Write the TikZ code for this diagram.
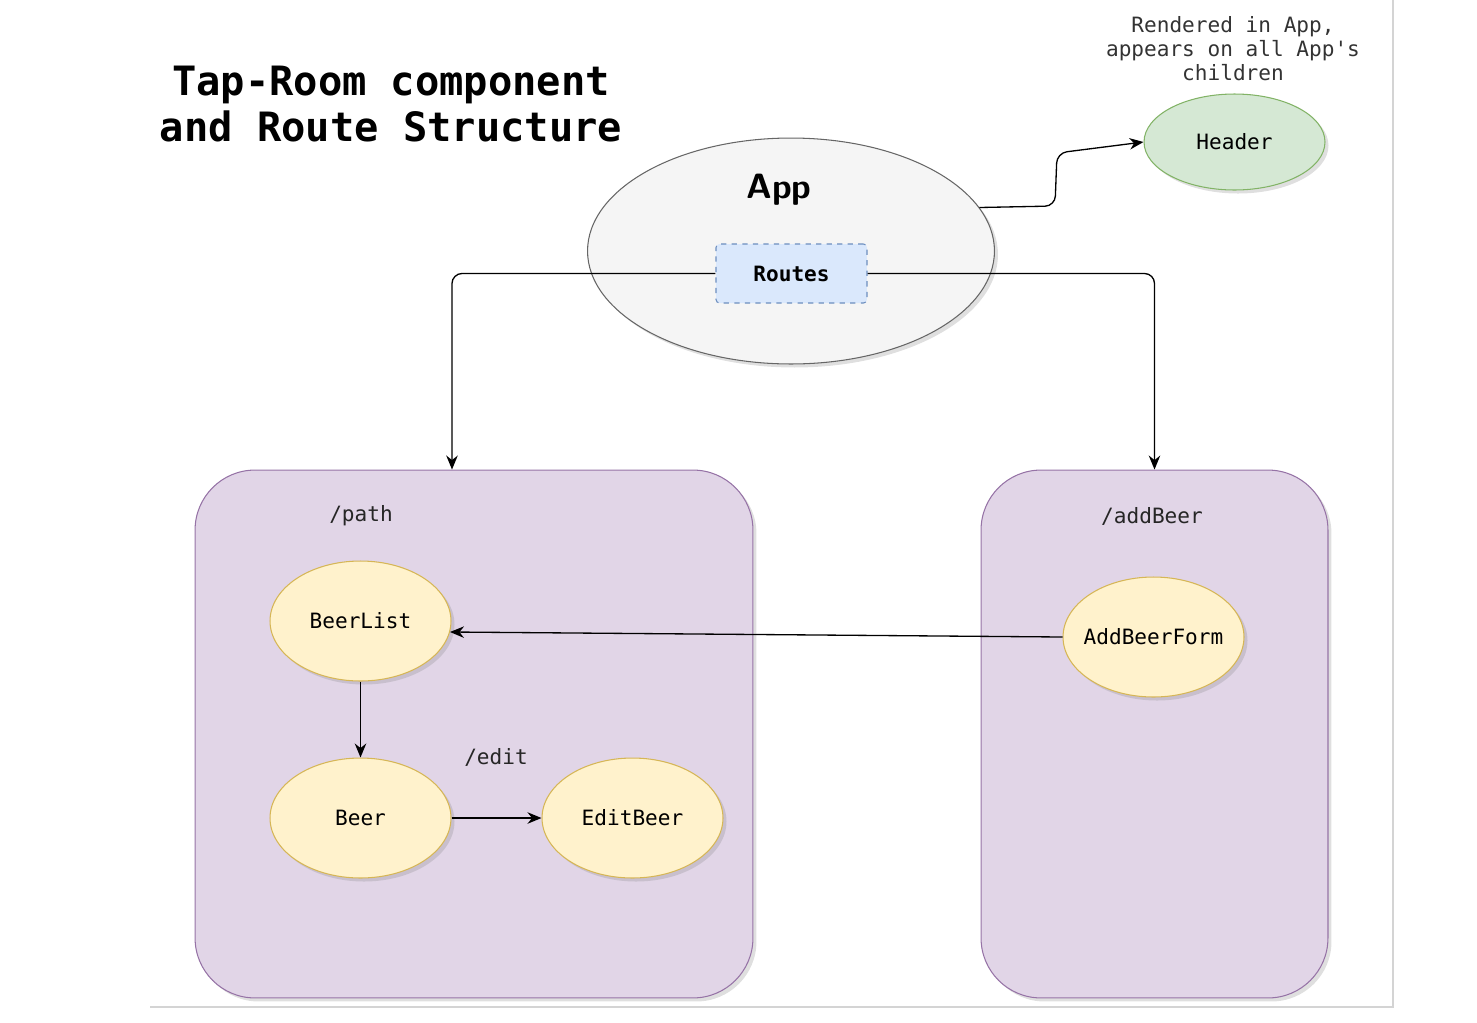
\documentclass[tikz,border=0pt]{standalone}
\usepackage{fontspec}
\setmainfont{DejaVu Sans}
\setmonofont{DejaVu Sans Mono}
\usetikzlibrary{shapes.geometric,arrows.meta,shadows}
\definecolor{appfill}{HTML}{F5F5F5}
\definecolor{appline}{HTML}{666666}
\definecolor{routefill}{HTML}{DAE8FC}
\definecolor{routeline}{HTML}{6C8EBF}
\definecolor{headfill}{HTML}{D5E8D4}
\definecolor{headline}{HTML}{82B366}
\definecolor{compfill}{HTML}{FFF2CC}
\definecolor{compline}{HTML}{D6B656}
\definecolor{boxfill}{HTML}{E1D5E7}
\definecolor{boxline}{HTML}{9673A6}
\definecolor{pageline}{HTML}{D4D4D4}

\begin{document}
\begin{tikzpicture}[x=0.02cm,y=-0.02cm,
>={Stealth[length=2.8mm,width=2.3mm]},
shade/.style={drop shadow={opacity=0.25,shadow xshift=2pt,shadow yshift=-2pt}},
compnode/.style={ellipse, draw=compline, fill=compfill, line width=0.6pt, minimum width=3.62cm, minimum height=2.4cm, inner sep=0pt, inner xsep=-0.4cm, shade, font=\ttfamily\fontsize{12}{14}\selectfont},
routebox/.style={rectangle, rounded corners=2pt, draw=routeline, fill=routefill, dashed, line width=0.6pt, minimum width=3.02cm, minimum height=1.18cm, font=\ttfamily\bfseries\fontsize{12}{14}\selectfont},
pathbox/.style={rectangle, rounded corners=1.2cm, draw=boxline, fill=boxfill, line width=0.6pt, minimum height=10.56cm, inner sep=0pt, shade},
pathlabel/.style={font=\ttfamily\fontsize{12}{14}\selectfont, text=black!85},
link/.style={->, line width=0.75pt, rounded corners=0.2cm}
]
    \useasboundingbox (0,0) rectangle (1477,1022);
    \draw[pageline, line width=0.8pt] (150,1007) -- (1393,1007) -- (1393,0);

    \node[align=center, font=\ttfamily\bfseries\fontsize{23}{26.6}\selectfont] (title) at (391,104) {Tap-Room component\\and Route Structure};
    \node[align=center, text=black!80, font=\ttfamily\fontsize{12}{13.6}\selectfont] (note) at (1233,49) {Rendered in App,\\appears on all App's\\children};

    \node[pathbox, minimum width=11.16cm] (pathbox) at (474,734) {};
    \node[pathbox, minimum width=6.94cm] (addbox) at (1154.5,734) {};
    \node[pathlabel] (pathlbl) at (361,516) {/path};
    \node[pathlabel] (addlbl) at (1152,516) {/addBeer};
    \node[pathlabel] (editlbl) at (496,757) {/edit};

    \node[ellipse, draw=appline, fill=appfill, line width=0.6pt, minimum width=8.14cm, minimum height=4.52cm, inner sep=0pt, shade] (app) at (791,251) {};
    \node[font=\sffamily\bfseries\fontsize{20}{24}\selectfont] (applbl) at (779,190) {App};
    \node[routebox] (routes) at (791.5,273.5) {Routes};
    \node[compnode, draw=headline, fill=headfill, minimum height=1.92cm] (header) at (1234.5,142) {Header};

    \node[compnode] (beerlist) at (360.5,621) {BeerList};
    \node[compnode] (beer) at (360.5,818) {Beer};
    \node[compnode] (editbeer) at (632.5,818) {EditBeer};
    \node[compnode] (addform) at (1153.5,637) {AddBeerForm};

    \draw[link] (routes.west) -| ([xshift=-0.44cm]pathbox.north);
    \draw[link] (routes.east) -| (addbox.north);
    \draw[link] (app.13.5) -- (1055,206) -- (1057,153) -- (header.west);
    \draw[link] (addform.west) -- (beerlist.-7.7);
    \draw[link] (beerlist) -- (beer);
    \draw[link] (beer) -- (editbeer);
\end{tikzpicture}
\end{document}
